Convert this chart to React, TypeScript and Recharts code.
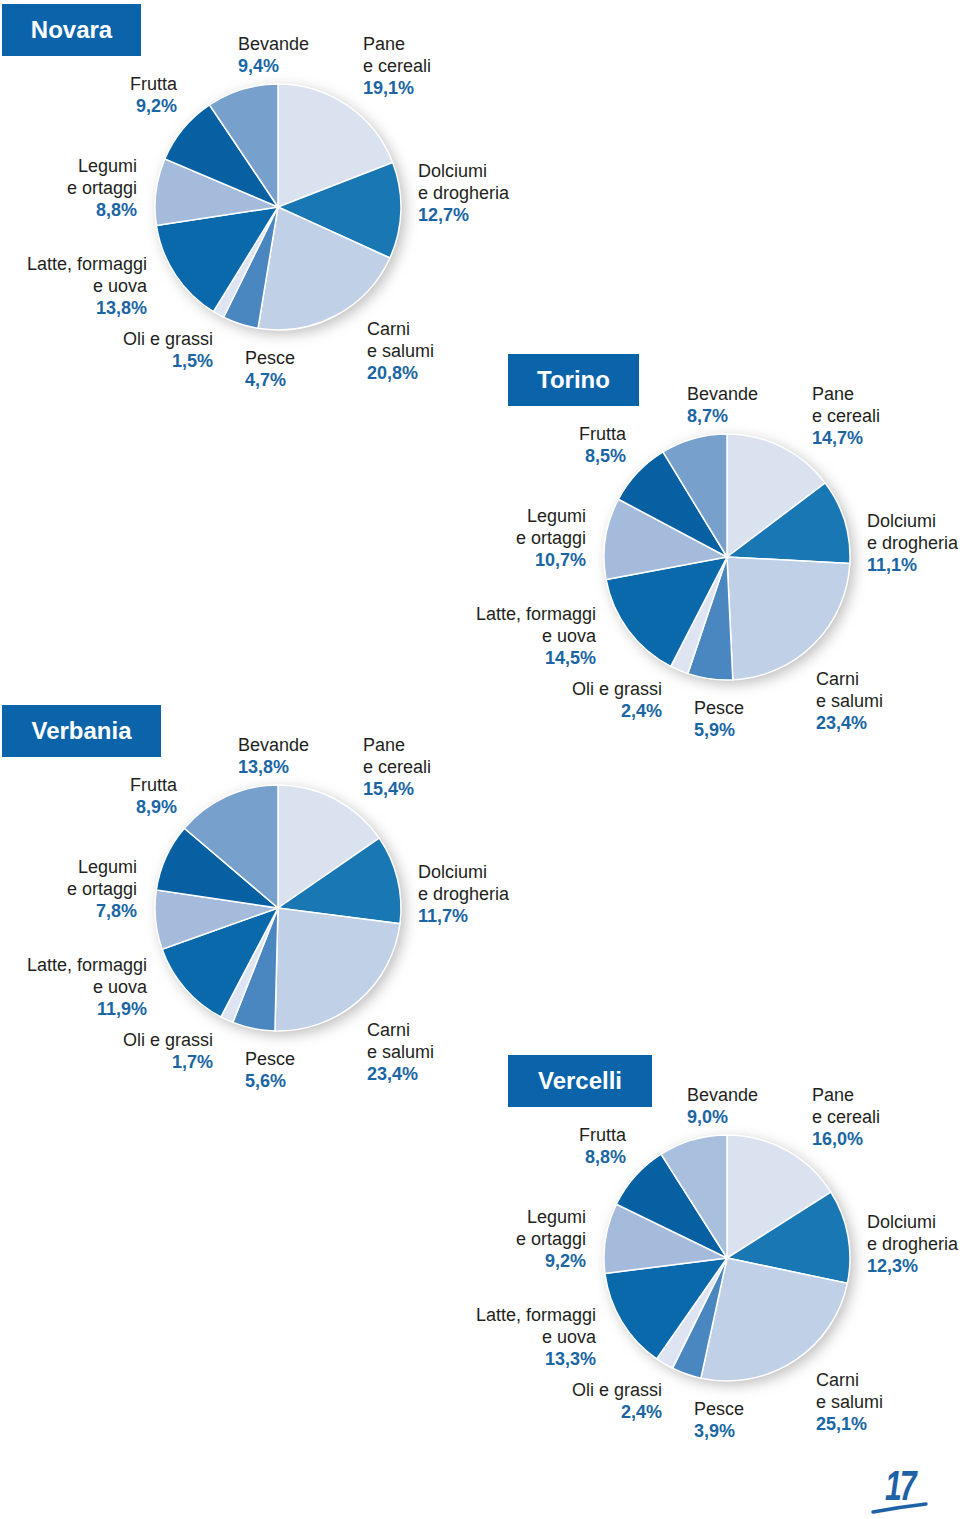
import React from 'react';
import { PieChart, Pie, Cell } from 'recharts';

// categories, clockwise from 12 o'clock
const categories = [
  'Pane e cereali',
  'Dolciumi e drogheria',
  'Carni e salumi',
  'Pesce',
  'Oli e grassi',
  'Latte, formaggi e uova',
  'Legumi e ortaggi',
  'Frutta',
  'Bevande',
];

const labelLines = [
  ['Pane', 'e cereali'],
  ['Dolciumi', 'e drogheria'],
  ['Carni', 'e salumi'],
  ['Pesce'],
  ['Oli e grassi'],
  ['Latte, formaggi', 'e uova'],
  ['Legumi', 'e ortaggi'],
  ['Frutta'],
  ['Bevande'],
];

const novara = [19.1, 12.7, 20.8, 4.7, 1.5, 13.8, 8.8, 9.2, 9.4];
const torino = [14.7, 11.1, 23.4, 5.9, 2.4, 14.5, 10.7, 8.5, 8.7];
const verbania = [15.4, 11.7, 23.4, 5.6, 1.7, 11.9, 7.8, 8.9, 13.8];
const vercelli = [16.0, 12.3, 25.1, 3.9, 2.4, 13.3, 9.2, 8.8, 9.0];

const COLORS = ['#dbe2ef', '#1977b4', '#bfd0e7', '#4a87c1', '#dee4f1', '#0a69aa', '#a4bbdb', '#0660a1', '#77a1cc'];
const VERCELLI_COLORS = ['#dbe2ef', '#1977b4', '#bfd0e7', '#4a87c1', '#dee4f1', '#0a69aa', '#a4bbdb', '#0660a1', '#a8bfdd'];

// where each label block sits, relative to its pie's centre
const LABEL_LAYOUT = [
  { dx: 85, dy: -157, anchor: 'start' },
  { dx: 140, dy: -30, anchor: 'start' },
  { dx: 89, dy: 128, anchor: 'start' },
  { dx: -33, dy: 157, anchor: 'start' },
  { dx: -65, dy: 138, anchor: 'end' },
  { dx: -131, dy: 63, anchor: 'end' },
  { dx: -141, dy: -35, anchor: 'end' },
  { dx: -101, dy: -117, anchor: 'end' },
  { dx: -40, dy: -157, anchor: 'start' },
];

const cities = [
  { name: 'Novara', values: novara, colors: COLORS, cx: 278, cy: 207, boxLeft: 2, boxWidth: 139 },
  { name: 'Torino', values: torino, colors: COLORS, cx: 727, cy: 557, boxLeft: 508, boxWidth: 131 },
  { name: 'Verbania', values: verbania, colors: COLORS, cx: 278, cy: 908, boxLeft: 2, boxWidth: 159 },
  { name: 'Vercelli', values: vercelli, colors: VERCELLI_COLORS, cx: 727, cy: 1258, boxLeft: 508, boxWidth: 144 },
];

const FONT = '"Liberation Sans", Arial, Helvetica, sans-serif';
const fmt = (v: number) => v.toFixed(1).replace('.', ',') + '%';

const renderLabel = (props: any) => {
  const { cx, cy, index } = props;
  const value = props.value ?? props.payload?.value;
  const lay = LABEL_LAYOUT[index];
  const lines = labelLines[index];
  const x = cx + lay.dx;
  const y0 = cy + lay.dy;
  return (
    <text key={`lbl-${index}`} x={x} y={y0} textAnchor={lay.anchor} fontFamily={FONT} fontSize={18}>
      {lines.map((l, i) => (
        <tspan key={i} x={x} y={y0 + i * 22} fill="#231f20">
          {l}
        </tspan>
      ))}
      <tspan x={x} y={y0 + lines.length * 22} fill="#1a66a4" fontWeight="bold">
        {fmt(value)}
      </tspan>
    </text>
  );
};

export default function App() {
  return (
    <div style={{ position: 'absolute', left: 0, top: 0, width: 960, height: 1519, background: '#fff', fontFamily: FONT }}>
      <style>{`.pie-shadow path { filter: drop-shadow(4px 4px 7px rgba(0,0,0,0.26)); }`}</style>
      <PieChart width={960} height={1519} margin={{ top: 0, right: 0, bottom: 0, left: 0 }}>
        {cities.map((c) => (
          <Pie
            key={`bg-${c.name}`}
            className="pie-shadow"
            data={[{ name: 'bg', value: 1 }]}
            dataKey="value"
            cx={c.cx}
            cy={c.cy}
            outerRadius={123}
            fill="#ffffff"
            stroke="none"
            label={false}
            labelLine={false}
            isAnimationActive={false}
          />
        ))}
        {cities.map((c) => (
          <Pie
            key={c.name}
            data={categories.map((name, i) => ({ name, value: c.values[i] }))}
            dataKey="value"
            nameKey="name"
            cx={c.cx}
            cy={c.cy}
            outerRadius={123}
            startAngle={90}
            endAngle={-270}
            stroke="#ffffff"
            strokeWidth={1.5}
            label={renderLabel}
            labelLine={false}
            isAnimationActive={false}
          >
            {categories.map((name, i) => (
              <Cell key={name} fill={c.colors[i]} />
            ))}
          </Pie>
        ))}
      </PieChart>
      {cities.map((c) => (
        <div
          key={`t-${c.name}`}
          style={{
            position: 'absolute',
            left: c.boxLeft,
            top: c.cy - 203,
            width: c.boxWidth,
            height: 52,
            lineHeight: '52px',
            background: '#0b64aa',
            color: '#fff',
            fontWeight: 'bold',
            fontSize: 24,
            textAlign: 'center',
            boxSizing: 'border-box',
          }}
        >
          {c.name}
        </div>
      ))}
      <svg style={{ position: 'absolute', left: 860, top: 1450 }} width={100} height={69}>
        <text
          x={0}
          y={0}
          transform="translate(25 50) scale(0.72 1)"
          fill="#1d62a6"
          fontFamily={FONT}
          fontStyle="italic"
          fontWeight="bold"
          fontSize={42}
          letterSpacing={-3}
        >
          17
        </text>
        <path d="M13 62 Q40 57 66 54" stroke="#1d62a6" strokeWidth={3.5} fill="none" strokeLinecap="round" />
      </svg>
    </div>
  );
}
